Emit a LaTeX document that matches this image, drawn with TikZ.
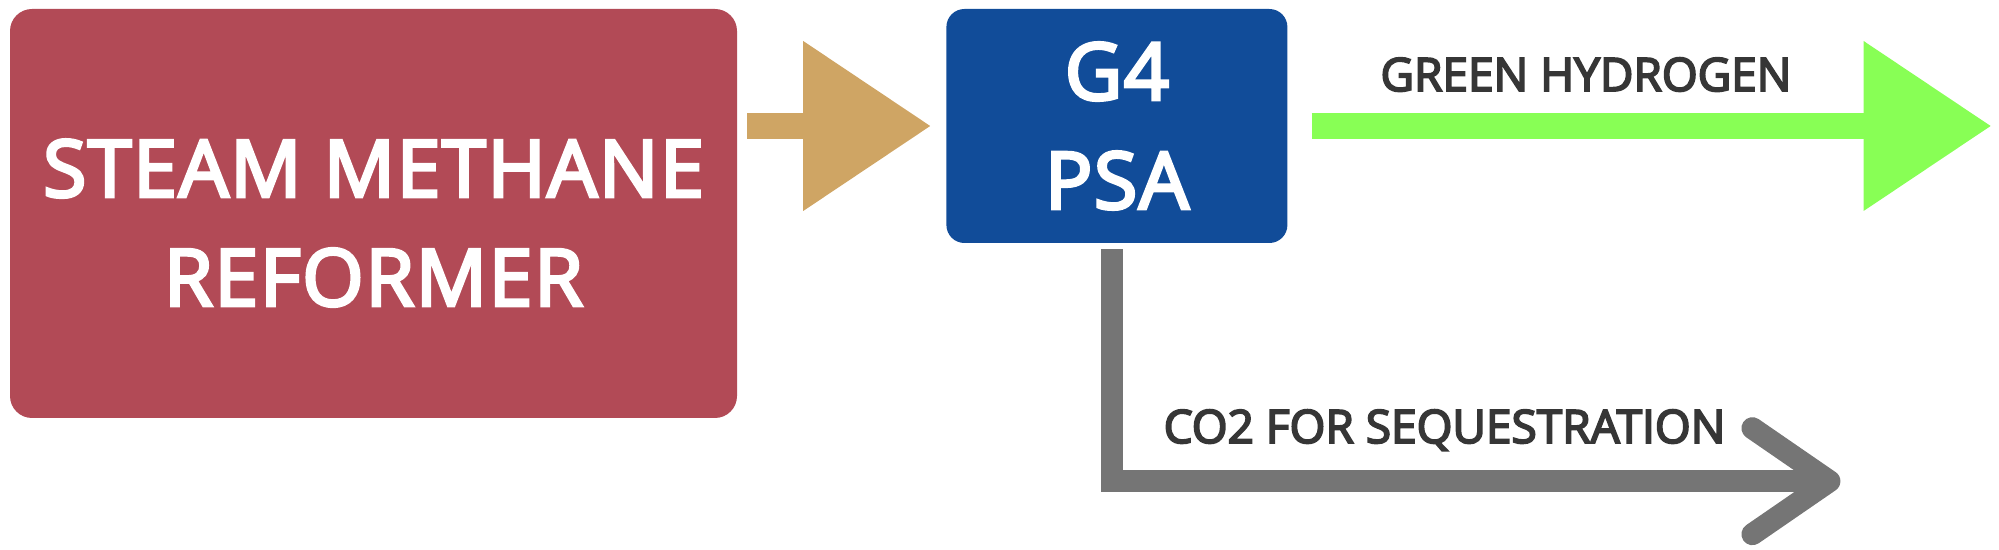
\documentclass[tikz,border=0pt]{standalone}
\usepackage{fontspec}
\newfontfamily\unitfont{Open Sans}[FakeBold=4, LetterSpace=2]
\newfontfamily\labelfont{Open Sans}[FakeBold=4]
\usetikzlibrary{arrows.meta, positioning}
\definecolor{smrred}{HTML}{B24A56}
\definecolor{psablue}{HTML}{114C99}
\definecolor{feedtan}{HTML}{CFA564}
\definecolor{h2green}{HTML}{88FF55}
\definecolor{co2gray}{HTML}{757575}
\definecolor{labelgray}{HTML}{363636}
\tikzset{
  unitbox/.style={rectangle, text=white, align=center, inner sep=0pt, font=\unitfont\fontsize{79}{109}\selectfont},
  flowlabel/.style={text=labelgray, inner sep=0pt, font=\labelfont\fontsize{46}{55}\selectfont},
  feed/.style={draw=feedtan, line width=26pt, shorten <=10pt, shorten >=16pt, -{Triangle[length=127pt, width=170pt, line width=0pt]}},
  product/.style={draw=h2green, line width=26pt, shorten <=24pt, -{Triangle[length=127pt, width=170pt, line width=0pt]}},
  offgas/.style={draw=co2gray, line width=22pt, -{Straight Barb[length=77pt, width=106pt, round]}}
}

\begin{document}
\begin{tikzpicture}[x=1pt, y=1pt]
    \useasboundingbox (0,0) rectangle (1999,549);
    \node[unitbox, fill=smrred, minimum width=727pt, minimum height=409pt, rounded corners=22pt] (smr) at (373.5,335.5) {\strut STEAM METHANE\\REFORMER};
    \node[unitbox, fill=psablue, minimum width=341pt, minimum height=234pt, rounded corners=18pt, below right=0pt and 209pt of smr.north east] (psa) {G4\\PSA};
    \coordinate[right=703pt of psa.east] (h2end);
    \coordinate[below right=238pt and 723.5pt of psa.south] (co2end);
    \draw[feed] (smr.east |- psa.west) -- (psa.west);
    \draw[product] (psa.east) -- (h2end);
    \draw[offgas] ([xshift=-4.5pt, yshift=-6pt]psa.south) |- (co2end);
    \node[flowlabel, anchor=base] (h2label) at (1586,458) {GREEN HYDROGEN};
    \node[flowlabel, anchor=base] (co2label) at (1444.5,106) {CO2 FOR SEQUESTRATION};
  \end{tikzpicture}
\end{document}
